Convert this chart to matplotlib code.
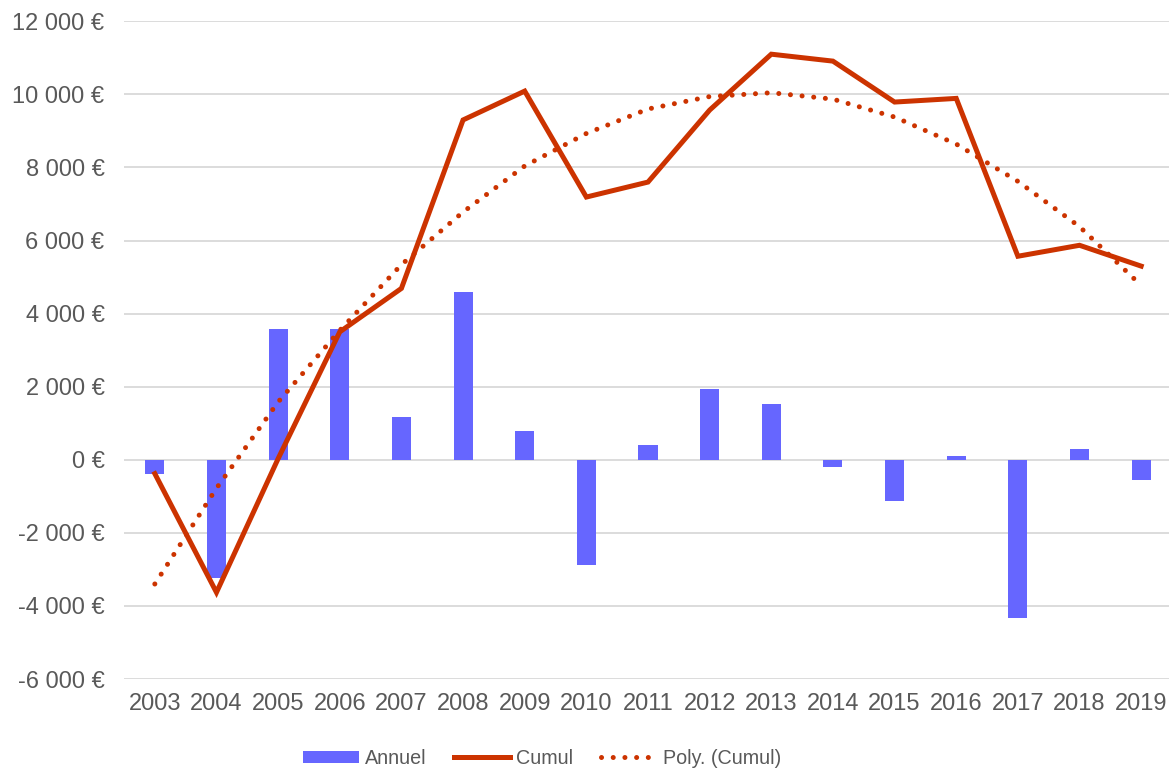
import matplotlib
matplotlib.use("Agg")
import matplotlib.pyplot as plt
from matplotlib.ticker import FuncFormatter

years = ["2003", "2004", "2005", "2006", "2007", "2008", "2009", "2010", "2011",
         "2012", "2013", "2014", "2015", "2016", "2017", "2018", "2019"]
annuel = [-400, -3240, 3570, 3570, 1170, 4580, 800, -2890, 400,
          1950, 1520, -190, -1130, 110, -4320, 290, -555]
cumul = [-380, -3630, 30, 3500, 4690, 9300, 10090, 7190, 7600,
         9570, 11100, 10910, 9790, 9890, 5570, 5870, 5300]
poly_cumul = [-3400, -780, 1580, 3540, 5340, 6780, 8040, 8930, 9600,
              9940, 10045, 9870, 9380, 8640, 7620, 6380, 4770]
yticks = [-6000, -4000, -2000, 0, 2000, 4000, 6000, 8000, 10000, 12000]

plt.rcParams['font.family'] = ['Liberation Sans', 'DejaVu Sans']
W, H = 1169, 772
fig = plt.figure(figsize=(W / 100, H / 100), dpi=100)
left, right, top, bottom = 124, 1172, 21.3, 679
ax = fig.add_axes([left / W, 1 - bottom / H, (right - left) / W, (bottom - top) / H])

x = list(range(len(years)))
bar_color = "#6666FF"
line_color = "#CC3300"

hb = ax.bar(x, annuel, width=0.31, color=bar_color, zorder=2, label="Annuel")
hc, = ax.plot(x, cumul, color=line_color, linewidth=3.6, solid_joinstyle='miter',
              zorder=3, label="Cumul")
hp, = ax.plot(x, poly_cumul, color=line_color, linewidth=3.6, linestyle=(0, (0.01, 2.33)),
              dash_capstyle='round', zorder=4, label="Poly. (Cumul)")

ax.set_xlim(-0.5, len(years) - 0.5)
ax.set_ylim(-6000, 12000)
ax.set_yticks(yticks)
ax.yaxis.set_major_formatter(FuncFormatter(lambda v, p: f"{int(v):,}".replace(",", " ") + " €"))
ax.set_xticks(x)
ax.set_xticklabels(years)
ax.grid(axis='y', color="#D9D9D9", linewidth=1.3, zorder=0)
ax.set_axisbelow(True)
for s in ax.spines.values():
    s.set_visible(False)
ax.tick_params(axis='both', length=0, labelsize=17, colors="#595959")
ax.tick_params(axis='y', pad=14)
ax.tick_params(axis='x', pad=10)

fig.legend(handles=[hb, hc, hp], loc='center', bbox_to_anchor=(542 / W, 1 - 758 / H),
           ncol=3, frameon=False, fontsize=14.2, labelcolor="#595959",
           handlelength=2.85, handleheight=0.56, handletextpad=0.3, columnspacing=1.4)

fig.savefig("out.png", dpi=100)
